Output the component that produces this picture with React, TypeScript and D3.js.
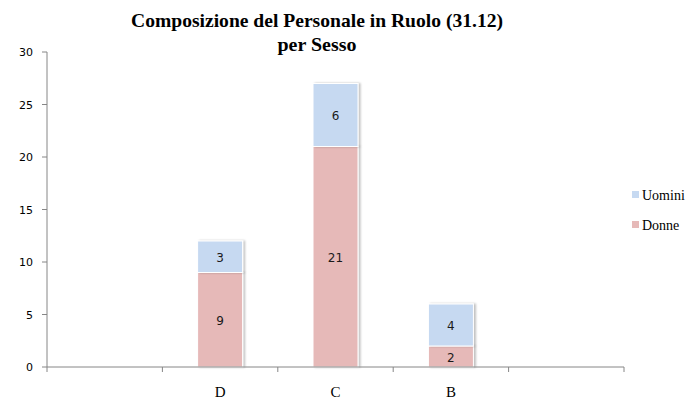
import React from "react";
import * as d3 from "d3";

const categories = ["", "D", "C", "B", ""];
const donne = [null, 9, 21, 2, null];
const uomini = [null, 3, 6, 4, null];
const yTicks = [0, 5, 10, 15, 20, 25, 30];
const seriesNames = ["Uomini", "Donne"];
const colors = { Donne: "#E6B9B8", Uomini: "#C6D9F1" };

export default function App() {
  const W = 692, H = 401;
  const x0 = 47, x1 = 624, yTop = 52, yBot = 367;
  const x = d3.scaleBand<number>().domain(d3.range(categories.length)).range([x0, x1]);
  const y = d3.scaleLinear().domain([0, 30]).range([yBot, yTop]);
  const barW = 45;
  const axisColor = "#868686";
  const rows = categories.map((c, i) => ({ c, i, d: donne[i], u: uomini[i] }));
  const stack = d3.stack<any>().keys(["d", "u"]).value((r, k) => (r[k] ?? 0));
  const layers = stack(rows.filter(r => r.d != null));
  const sansFont = "Verdana, 'DejaVu Sans', sans-serif";
  const serifFont = "'Liberation Serif', 'DejaVu Serif', serif";
  const boundaries = d3.range(categories.length + 1).map(k => x0 + k * x.step());
  return (
    <svg width={W} height={H} style={{ position: "absolute", left: 0, top: 0, background: "#fff" }}>
      <defs>
        <filter id="sh" x="-20%" y="-20%" width="140%" height="140%">
          <feGaussianBlur in="SourceAlpha" stdDeviation="1.2" />
          <feOffset dx="1.5" dy="0" result="b" />
          <feComponentTransfer><feFuncA type="linear" slope="0.25" /></feComponentTransfer>
          <feMerge><feMergeNode /><feMergeNode in="SourceGraphic" /></feMerge>
        </filter>
      </defs>
      <text x={317} y={27} textAnchor="middle" fontFamily={serifFont} fontWeight="bold" fontSize={19} textLength={372} lengthAdjust="spacingAndGlyphs" fill="#000">Composizione del Personale in Ruolo (31.12)</text>
      <text x={317} y={51} textAnchor="middle" fontFamily={serifFont} fontWeight="bold" fontSize={19} textLength={79} lengthAdjust="spacingAndGlyphs" fill="#000">per Sesso</text>
      {/* y axis */}
      <line x1={x0} x2={x0} y1={yTop} y2={yBot} stroke={axisColor} />
      {yTicks.map(t => (
        <g key={t}>
          <line x1={x0 - 5} x2={x0} y1={y(t)} y2={y(t)} stroke={axisColor} />
          <text x={33} y={y(t) + 4} textAnchor="end" fontFamily={sansFont} fontSize={11} fill="#000">{t}</text>
        </g>
      ))}
      {/* bars */}
      {layers.map((layer, li) => layer.map((seg, si) => {
        const r = seg.data;
        const v = seg[1] - seg[0];
        const cx = (x(r.i) as number) + x.bandwidth() / 2;
        const yt = y(seg[1]), yb = y(seg[0]);
        const key = li === 0 ? "Donne" : "Uomini";
        return (
          <g key={`${li}-${si}`}>
            <rect x={cx - barW / 2} y={yt} width={barW} height={yb - yt} fill={colors[key]} stroke="#fff" strokeWidth={1} filter="url(#sh)" />
            <text x={cx} y={(yt + yb) / 2 + 5} textAnchor="middle" fontFamily={sansFont} fontSize={12} fill="#1a1a1a">{v}</text>
          </g>
        );
      }))}
      {/* x axis */}
      <line x1={x0} x2={x1} y1={yBot} y2={yBot} stroke={axisColor} />
      {boundaries.map((b, k) => (
        <line key={k} x1={b} x2={b} y1={yBot} y2={yBot + 5} stroke={axisColor} />
      ))}
      {categories.map((c, i) => (
        <text key={i} x={(x(i) as number) + x.bandwidth() / 2} y={397} textAnchor="middle" fontFamily={serifFont} fontSize={15} fill="#000">{c}</text>
      ))}
      {/* legend */}
      {seriesNames.map((n, k) => (
        <g key={n}>
          <rect x={632} y={191 + k * 30} width={7} height={7} fill={colors[n]} />
          <text x={642} y={200 + k * 30} fontFamily={serifFont} fontSize={14} fill="#000">{n}</text>
        </g>
      ))}
    </svg>
  );
}
